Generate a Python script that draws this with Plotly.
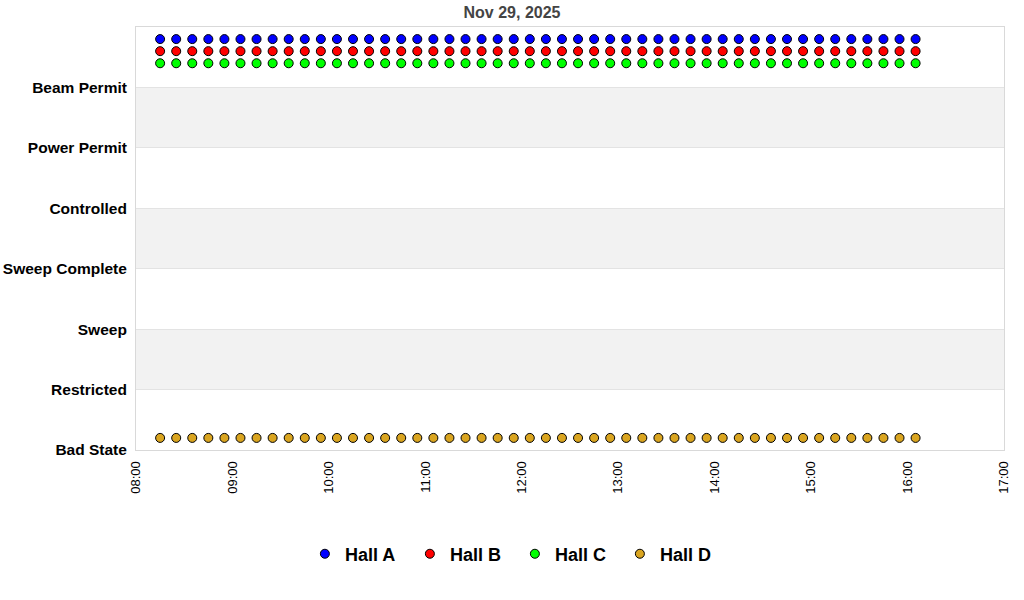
import plotly.graph_objects as go

date = "2025-11-29"
times = ["08:15", "08:25", "08:35", "08:45", "08:55",
         "09:05", "09:15", "09:25", "09:35", "09:45", "09:55",
         "10:05", "10:15", "10:25", "10:35", "10:45", "10:55",
         "11:05", "11:15", "11:25", "11:35", "11:45", "11:55",
         "12:05", "12:15", "12:25", "12:35", "12:45", "12:55",
         "13:05", "13:15", "13:25", "13:35", "13:45", "13:55",
         "14:05", "14:15", "14:25", "14:35", "14:45", "14:55",
         "15:05", "15:15", "15:25", "15:35", "15:45", "15:55",
         "16:05"]

hall_a = [6.8, 6.8, 6.8, 6.8, 6.8, 6.8, 6.8, 6.8, 6.8, 6.8, 6.8, 6.8,
          6.8, 6.8, 6.8, 6.8, 6.8, 6.8, 6.8, 6.8, 6.8, 6.8, 6.8, 6.8,
          6.8, 6.8, 6.8, 6.8, 6.8, 6.8, 6.8, 6.8, 6.8, 6.8, 6.8, 6.8,
          6.8, 6.8, 6.8, 6.8, 6.8, 6.8, 6.8, 6.8, 6.8, 6.8, 6.8, 6.8]
hall_b = [6.6, 6.6, 6.6, 6.6, 6.6, 6.6, 6.6, 6.6, 6.6, 6.6, 6.6, 6.6,
          6.6, 6.6, 6.6, 6.6, 6.6, 6.6, 6.6, 6.6, 6.6, 6.6, 6.6, 6.6,
          6.6, 6.6, 6.6, 6.6, 6.6, 6.6, 6.6, 6.6, 6.6, 6.6, 6.6, 6.6,
          6.6, 6.6, 6.6, 6.6, 6.6, 6.6, 6.6, 6.6, 6.6, 6.6, 6.6, 6.6]
hall_c = [6.4, 6.4, 6.4, 6.4, 6.4, 6.4, 6.4, 6.4, 6.4, 6.4, 6.4, 6.4,
          6.4, 6.4, 6.4, 6.4, 6.4, 6.4, 6.4, 6.4, 6.4, 6.4, 6.4, 6.4,
          6.4, 6.4, 6.4, 6.4, 6.4, 6.4, 6.4, 6.4, 6.4, 6.4, 6.4, 6.4,
          6.4, 6.4, 6.4, 6.4, 6.4, 6.4, 6.4, 6.4, 6.4, 6.4, 6.4, 6.4]
hall_d = [0.2, 0.2, 0.2, 0.2, 0.2, 0.2, 0.2, 0.2, 0.2, 0.2, 0.2, 0.2,
          0.2, 0.2, 0.2, 0.2, 0.2, 0.2, 0.2, 0.2, 0.2, 0.2, 0.2, 0.2,
          0.2, 0.2, 0.2, 0.2, 0.2, 0.2, 0.2, 0.2, 0.2, 0.2, 0.2, 0.2,
          0.2, 0.2, 0.2, 0.2, 0.2, 0.2, 0.2, 0.2, 0.2, 0.2, 0.2, 0.2]

series_names = ["Hall A", "Hall B", "Hall C", "Hall D"]
series_colors = ["#0000ff", "#ff0000", "#00ff00", "#daa520"]

state_vals = [0, 1, 2, 3, 4, 5, 6]
state_labels = ["Bad State", "Restricted", "Sweep", "Sweep Complete",
                "Controlled", "Power Permit", "Beam Permit"]
x_tick_labels = ["08:00", "09:00", "10:00", "11:00", "12:00",
                 "13:00", "14:00", "15:00", "16:00", "17:00"]

x = [f"{date} {t}" for t in times]
FONT = "Liberation Sans, Arial, sans-serif"

fig = go.Figure()
for name, color, ys in zip(series_names, series_colors, [hall_a, hall_b, hall_c, hall_d]):
    fig.add_trace(go.Scatter(
        x=x, y=ys, mode="markers", name=name,
        marker=dict(color=color, size=9, symbol="circle",
                    line=dict(color="black", width=1)),
    ))

# shaded bands
for lo, hi in [(1, 2), (3, 4), (5, 6)]:
    fig.add_shape(type="rect", xref="paper", yref="y", x0=0, x1=1, y0=lo, y1=hi,
                  fillcolor="#f2f2f2", line=dict(width=0), layer="below")

fig.update_layout(
    width=1024, height=600,
    paper_bgcolor="white", plot_bgcolor="white",
    margin=dict(l=136, r=20, t=27, b=150),
    title=dict(text="Nov 29, 2025", x=0.5, xanchor="center", y=0.98, yanchor="middle",
               font=dict(family=FONT, size=16, color="#444444", weight="bold")),
    showlegend=True,
    legend=dict(orientation="h", x=0.4365, xanchor="center", y=-0.246, yanchor="middle",
                font=dict(family=FONT, size=18, color="black", weight="bold"),
                entrywidth=60, entrywidthmode="pixels"),
    font=dict(family=FONT, color="black"),
)

fig.update_xaxes(
    type="date",
    range=[f"{date} 08:00", f"{date} 17:00"],
    tickvals=[f"{date} {t}" for t in x_tick_labels],
    ticktext=x_tick_labels,
    tickangle=-90,
    tickfont=dict(family=FONT, size=13, color="black"),
    showgrid=False, zeroline=False,
    showline=True, linecolor="#d9d9d9", linewidth=1, mirror=True,
    ticks="", ticklen=0, ticklabelstandoff=5, automargin=False,
)
fig.update_yaxes(
    range=[0, 7],
    tickvals=state_vals, ticktext=state_labels,
    tickfont=dict(family=FONT, size=15.5, color="black", weight="bold"),
    showgrid=True, gridcolor="#e3e3e3", gridwidth=1, zeroline=False,
    showline=True, linecolor="#d9d9d9", linewidth=1, mirror=True,
    ticks="", ticklabelstandoff=5, automargin=False,
)

fig.write_html("out.html", config={"displayModeBar": False},
               post_script="document.body.style.margin='0';")
